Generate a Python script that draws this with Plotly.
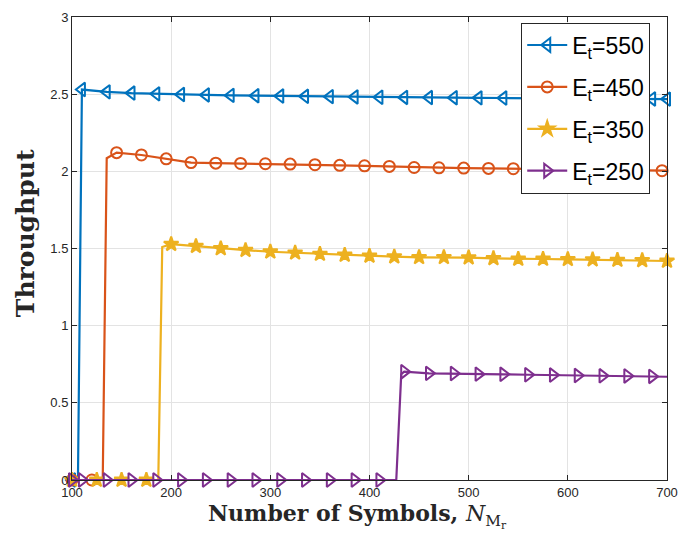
import plotly.graph_objects as go

# ---------------- data ----------------
# Et = 550
x550_line = [100, 106, 110, 135, 160, 185, 210, 235, 260, 285, 310, 335, 360, 385, 410, 435, 460, 485, 510, 535, 560, 585, 610, 635, 660, 685, 700]
y550_line = [0, 0, 2.530, 2.515, 2.507, 2.502, 2.498, 2.495, 2.492, 2.490, 2.488, 2.486, 2.484, 2.482, 2.480, 2.479, 2.478, 2.477, 2.476, 2.475, 2.474, 2.473, 2.472, 2.471, 2.470, 2.469, 2.468]
x550_mark = [100, 110, 135, 160, 185, 210, 235, 260, 285, 310, 335, 360, 385, 410, 435, 460, 485, 510, 535, 560, 585, 610, 635, 660, 685, 700]
y550_mark = [0, 2.530, 2.515, 2.507, 2.502, 2.498, 2.495, 2.492, 2.490, 2.488, 2.486, 2.484, 2.482, 2.480, 2.479, 2.478, 2.477, 2.476, 2.475, 2.474, 2.473, 2.472, 2.471, 2.470, 2.469, 2.468]

# Et = 450
x450_line = [100, 120, 131, 135, 145, 170, 195, 220, 245, 270, 295, 320, 345, 370, 395, 420, 445, 470, 495, 520, 545, 570, 595, 620, 645, 670, 695, 700]
y450_line = [0, 0, 0, 2.085, 2.121, 2.106, 2.081, 2.057, 2.053, 2.051, 2.049, 2.047, 2.043, 2.039, 2.036, 2.032, 2.025, 2.023, 2.021, 2.019, 2.017, 2.014, 2.012, 2.010, 2.008, 2.006, 2.004, 2.004]
x450_mark = [100, 120, 145, 170, 195, 220, 245, 270, 295, 320, 345, 370, 395, 420, 445, 470, 495, 520, 545, 570, 595, 620, 645, 670, 695]
y450_mark = [0, 0, 2.121, 2.106, 2.081, 2.057, 2.053, 2.051, 2.049, 2.047, 2.043, 2.039, 2.036, 2.032, 2.025, 2.023, 2.021, 2.019, 2.017, 2.014, 2.012, 2.010, 2.008, 2.006, 2.004]

# Et = 350
x350_line = [100, 187, 191, 200, 225, 250, 275, 300, 325, 350, 375, 400, 425, 450, 475, 500, 525, 550, 575, 600, 625, 650, 675, 700]
y350_line = [0, 0, 1.510, 1.528, 1.515, 1.500, 1.489, 1.479, 1.472, 1.464, 1.458, 1.452, 1.447, 1.443, 1.443, 1.441, 1.436, 1.432, 1.432, 1.430, 1.428, 1.425, 1.423, 1.419]
x350_mark = [100, 125, 150, 175, 200, 225, 250, 275, 300, 325, 350, 375, 400, 425, 450, 475, 500, 525, 550, 575, 600, 625, 650, 675, 700]
y350_mark = [0, 0, 0, 0, 1.528, 1.515, 1.500, 1.489, 1.479, 1.472, 1.464, 1.458, 1.452, 1.447, 1.443, 1.443, 1.441, 1.436, 1.432, 1.432, 1.430, 1.428, 1.425, 1.423, 1.419]

# Et = 250
x250_line = [100, 427, 432, 435, 460, 485, 510, 535, 560, 585, 610, 635, 660, 685, 700]
y250_line = [0, 0, 0.685, 0.702, 0.691, 0.690, 0.686, 0.685, 0.682, 0.680, 0.677, 0.675, 0.674, 0.671, 0.669]
x250_mark = [100, 110, 135, 160, 185, 210, 235, 260, 285, 310, 335, 360, 385, 410, 435, 460, 485, 510, 535, 560, 585, 610, 635, 660, 685]
y250_mark = [0, 0, 0, 0, 0, 0, 0, 0, 0, 0, 0, 0, 0, 0, 0.702, 0.691, 0.690, 0.686, 0.685, 0.682, 0.680, 0.677, 0.675, 0.674, 0.671]

labels = ["E<sub>t</sub>=550", "E<sub>t</sub>=450", "E<sub>t</sub>=350", "E<sub>t</sub>=250"]
colors = ["#0072BD", "#D95319", "#EDB120", "#7E2F8E"]
symbols = ["triangle-left-open", "circle-open", "star", "triangle-right-open"]
msizes = [12, 11, 11, 12]

x_ticks = [100, 200, 300, 400, 500, 600, 700]
y_ticks = [0, 0.5, 1, 1.5, 2, 2.5, 3]
y_ticklabels = ["0", "0.5", "1", "1.5", "2", "2.5", "3"]

series = [
    (x550_line, y550_line, x550_mark, y550_mark),
    (x450_line, y450_line, x450_mark, y450_mark),
    (x350_line, y350_line, x350_mark, y350_mark),
    (x250_line, y250_line, x250_mark, y250_mark),
]

fig = go.Figure()
for i, (xl, yl, xm, ym) in enumerate(series):
    c = colors[i]
    mk = dict(symbol=symbols[i], size=msizes[i], color=c, line=dict(color=c, width=2))
    fig.add_trace(go.Scatter(x=xl, y=yl, mode="lines", line=dict(color=c, width=2.2),
                             showlegend=False, hoverinfo="skip", cliponaxis=False))
    fig.add_trace(go.Scatter(x=xm, y=ym, mode="markers", marker=mk,
                             showlegend=False, cliponaxis=False))
    fig.add_trace(go.Scatter(x=[None], y=[None], mode="lines+markers", name=labels[i],
                             legendgroup="g%d" % i,
                             line=dict(color=c, width=2.2), marker=mk))

axis_common = dict(
    showline=True, linecolor="#262626", linewidth=1, mirror="ticks",
    ticks="inside", ticklen=5, tickcolor="#262626", tickwidth=1,
    showgrid=True, gridcolor="#e3e3e3", gridwidth=1, zeroline=False,
    tickfont=dict(family="Liberation Sans, Arial", size=13, color="#262626"),
)

fig.update_layout(
    width=699, height=533,
    margin=dict(l=72, r=32, t=10, b=53),
    paper_bgcolor="white", plot_bgcolor="white",
    xaxis=dict(range=[100, 700], tickvals=x_ticks, **axis_common),
    yaxis=dict(range=[0, 3], tickvals=y_ticks, ticktext=y_ticklabels, **axis_common),
    legend=dict(x=0.755, y=0.988, xanchor="left", yanchor="top",
                bgcolor="white", bordercolor="#262626", borderwidth=1,
                font=dict(family="Liberation Sans, Arial", size=23, color="#000000"),
                itemwidth=40, tracegroupgap=9, traceorder="grouped"),
    annotations=[
        dict(text="Number of Symbols, <span style='font-weight:normal'><i>N</i><sub>M<sub>r</sub></sub></span>",
             x=0.479, y=0, xref="paper", yref="paper", xanchor="center", yanchor="top",
             yshift=-18, showarrow=False,
             font=dict(family="DejaVu Serif", size=22, color="#262626", weight="bold")),
        dict(text="Throughput", x=0, y=0.533, xref="paper", yref="paper",
             xanchor="center", yanchor="middle", xshift=-47, textangle=-90, showarrow=False,
             font=dict(family="DejaVu Serif", size=25, color="#262626", weight="bold")),
    ],
)

fig.write_html("out.html", config={"displayModeBar": False},
               post_script="document.body.style.margin='0px';document.body.style.padding='0px';")
